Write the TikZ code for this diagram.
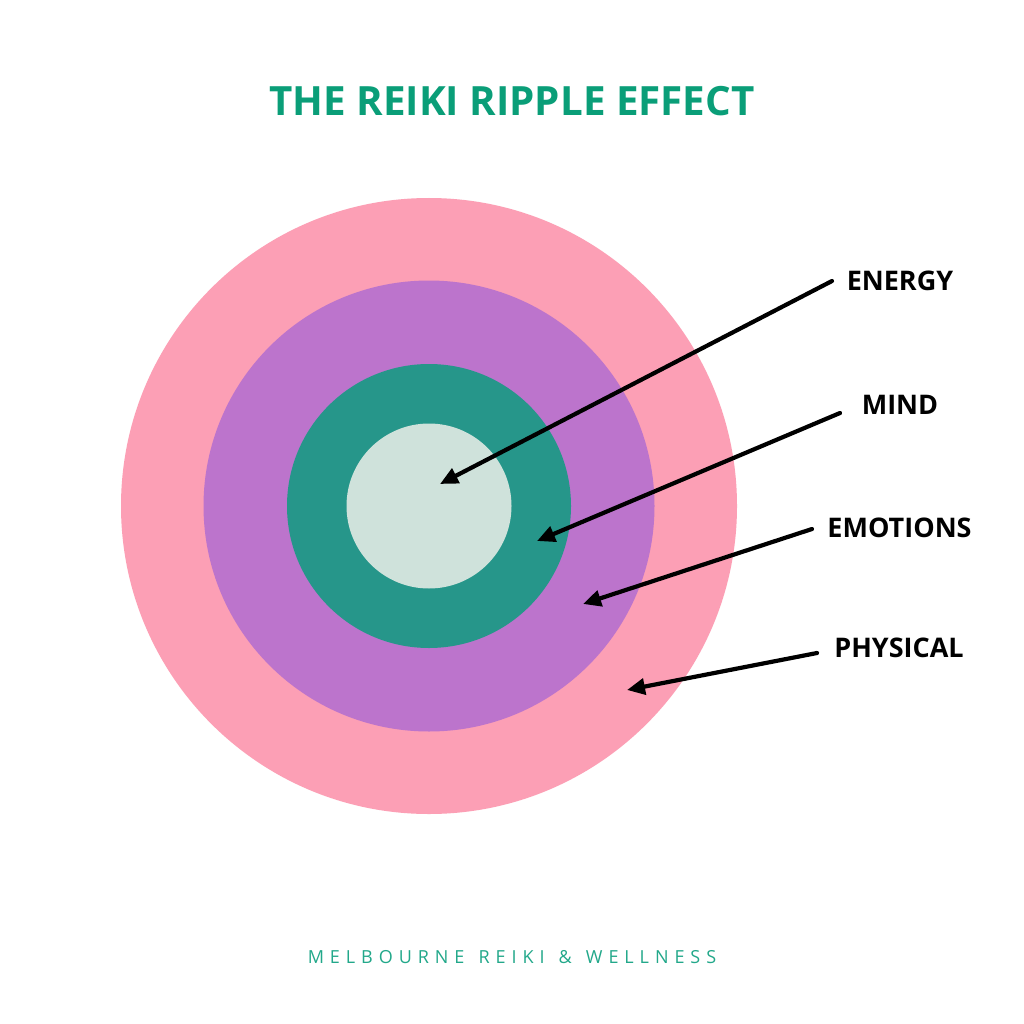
\documentclass[tikz,border=0pt]{standalone}
\usepackage{fontspec}
\setmainfont{Open Sans}
\usetikzlibrary{arrows.meta}
\definecolor{pinkc}{HTML}{FC9FB5}
\definecolor{purplec}{HTML}{BC74CC}
\definecolor{tealc}{HTML}{26968A}
\definecolor{lightc}{HTML}{CFE2DB}
\definecolor{titlec}{HTML}{0A9E78}
\definecolor{footc}{HTML}{22A88A}
\tikzset{
  lbl/.style={font=\fontsize{27}{30}\selectfont\bfseries, text=black, inner sep=0pt},
  arr/.style={line width=4.2pt, line cap=round, -{Triangle[length=18pt,width=16pt]}},
}
\begin{document}
\begin{tikzpicture}[x=1pt,y=-1pt]
\useasboundingbox[fill=white] (0,0) rectangle (1024,1024);
\fill[pinkc] (429,506) circle (308);
\fill[purplec] (429,506) circle (225.5);
\fill[tealc] (429,506) circle (142);
\fill[lightc] (429,506) circle (82.5);
\node[font=\fontsize{40.3}{44}\selectfont\bfseries, text=titlec, inner sep=0pt] (title) at (512,101) {THE REIKI RIPPLE EFFECT};
\node[font=\fontsize{18}{20}\selectfont\addfontfeature{LetterSpace=33}, text=footc, inner sep=0pt] (foot) at (512,957) {MELBOURNE\hspace{3.5pt} REIKI\hspace{3.5pt} \&\hspace{3.5pt} WELLNESS};
\node[lbl] (energy) at (900,281) {ENERGY};
\node[lbl] (mind) at (900,405) {MIND};
\node[lbl] (emotions) at (899.5,528) {EMOTIONS};
\node[lbl] (physical) at (899,648) {PHYSICAL};
\coordinate (e1) at (832,281);
\coordinate (e2) at (440,484);
\coordinate (m1) at (840,413);
\coordinate (m2) at (537,541);
\coordinate (o1) at (812,529);
\coordinate (o2) at (583,604);
\coordinate (p1) at (817,653);
\coordinate (p2) at (627,690);
\draw[arr] (e1) -- (e2);
\draw[arr] (m1) -- (m2);
\draw[arr] (o1) -- (o2);
\draw[arr] (p1) -- (p2);
\end{tikzpicture}
\end{document}
